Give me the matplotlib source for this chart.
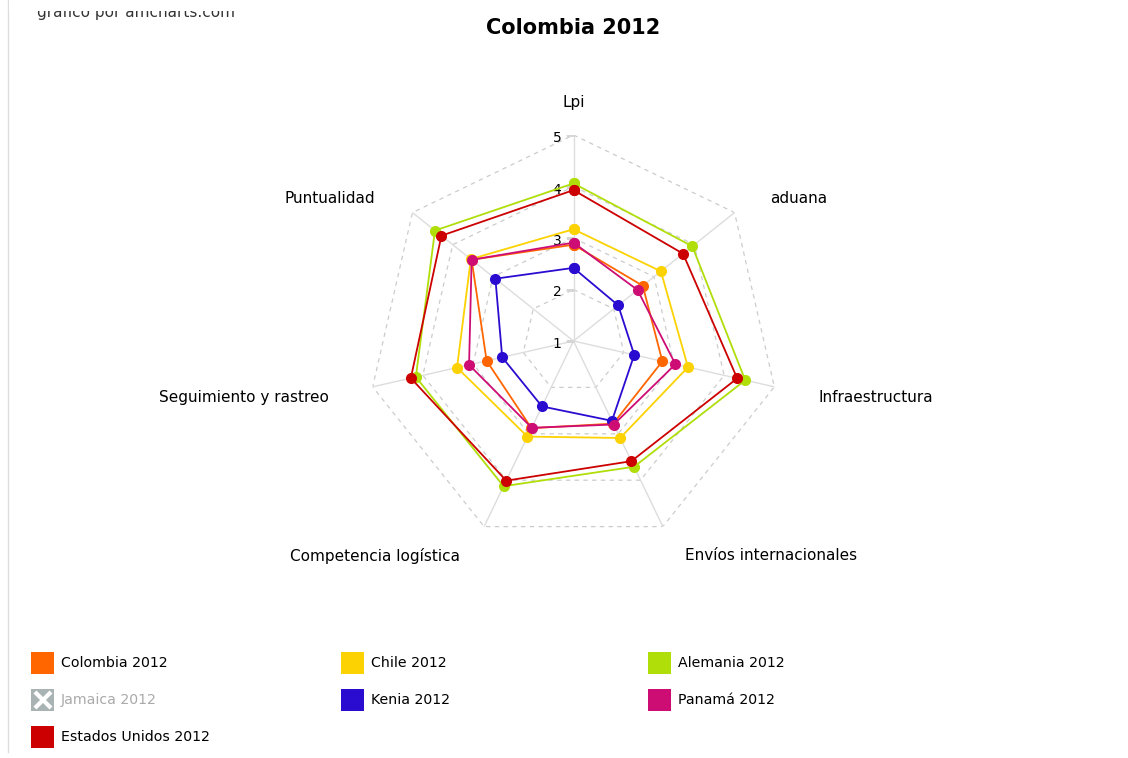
import numpy as np
import matplotlib
matplotlib.use('Agg')
import matplotlib.pyplot as plt
from matplotlib.patches import Rectangle

# Datos del gráfico (LPI 2012)
categorias = ['Lpi', 'aduana', 'Infraestructura', 'Envíos internacionales',
              'Competencia logística', 'Seguimiento y rastreo', 'Puntualidad']

colombia = [2.87, 2.72, 2.77, 2.78, 2.88, 2.73, 3.53]
chile = [3.17, 3.17, 3.28, 3.09, 3.06, 3.32, 3.55]
alemania = [4.06, 3.95, 4.42, 3.71, 4.13, 4.14, 4.44]
kenia = [2.42, 2.11, 2.21, 2.72, 2.41, 2.42, 2.94]
panama = [2.91, 2.59, 3.03, 2.80, 2.87, 3.08, 3.53]
estados_unidos = [3.93, 3.72, 4.26, 3.59, 4.01, 4.24, 4.28]

series = ['Colombia 2012', 'Chile 2012', 'Alemania 2012', 'Jamaica 2012',
          'Kenia 2012', 'Panamá 2012', 'Estados Unidos 2012']
valores = [colombia, chile, alemania, None, kenia, panama, estados_unidos]
colores = ['#FF6600', '#FCD202', '#B0DE09', '#AAB3B3', '#2A0CD0', '#CD0D74', '#CC0000']
visibles = [True, True, True, False, True, True, True]

niveles = [1, 2, 3, 4, 5]

W, H = 1128, 758
fig = plt.figure(figsize=(W / 100, H / 100), dpi=100)
fig.patch.set_facecolor('white')

# radar: centro (573.5, 341), radio 206 px
cx, cy, R = 573.5, 341, 206
ax = fig.add_axes([(cx - R) / W, (H - cy - R) / H, 2 * R / W, 2 * R / H], projection='polar')
ax.set_theta_zero_location('N')
ax.set_theta_direction(-1)
ax.set_ylim(1, 5)
ax.grid(False)
ax.set_xticks([])
ax.set_yticks([])
ax.spines['polar'].set_visible(False)
ax.patch.set_alpha(0)

n = len(categorias)
theta = np.arange(n) * 2 * np.pi / n
theta_c = np.r_[theta, theta[0]]

# rejilla poligonal
for lvl in niveles[1:]:
    ax.plot(theta_c, [lvl] * (n + 1), color='#cccccc', lw=0.9, ls=(0, (3.5, 3.5)), zorder=1)
for t in theta:
    ax.plot([t, t], [1, 5], color='#dddddd', lw=1.0, zorder=1)

# etiquetas del eje de valores
for v in niveles:
    ax.annotate(str(v), xy=(0, v), xytext=(-12, -3), textcoords='offset pixels',
                ha='right', va='center', fontsize=10, color='#000000', annotation_clip=False)
    ax.plot(0, v, marker=[(-1, 0), (0, 0)], ms=12, mec='#d5d5d5', mew=1, zorder=1)

# etiquetas de categorias
offsets = [(0, 32, 'center'), (36, 14, 'left'), (44, -11, 'left'), (22, -29, 'left'),
           (-24, -29, 'right'), (-44, -11, 'right'), (-37, 14, 'right')]
for t, cat, (dx, dy, ha) in zip(theta, categorias, offsets):
    ax.annotate(cat, xy=(t, 5), xytext=(dx, dy), textcoords='offset pixels',
                ha=ha, va='center', fontsize=11, color='#000000', annotation_clip=False)

# series
for i, (nombre, vals, c, vis) in enumerate(zip(series, valores, colores, visibles)):
    if not vis:
        continue
    ax.plot(theta_c, np.r_[vals, vals[0]], color=c, lw=1.3, marker='o', ms=8,
            mew=0, zorder=3 + i, clip_on=False)

# titulo y texto superior (cortado por arriba)
fig.text(573 / W, 1 - 28 / H, 'Colombia 2012', ha='center', va='center',
         fontsize=15, fontweight='bold', color='#000000')
fig.text(37 / W, 1 - 17 / H, 'gráfico por amcharts.com', ha='left', va='baseline',
         fontsize=11, color='#333333', zorder=3)
fig.add_artist(Rectangle((9 / W, 1 - 10.5 / H), 1, 1, transform=fig.transFigure,
                         color='white', lw=0, zorder=5))

# leyenda manual
lax = fig.add_axes([0, 0, 1, 1], zorder=-1)
lax.set_xlim(0, W)
lax.set_ylim(H, 0)
lax.axis('off')
lax.plot([8, 8], [0, 752], color='#dddddd', lw=1)

col_x = [31, 341, 648]
fila_y = [663, 700, 737]
for i, (nombre, c, vis) in enumerate(zip(series, colores, visibles)):
    x = col_x[i % 3]
    y = fila_y[i // 3]
    lax.add_patch(Rectangle((x, y - 11), 23, 22, color=c, lw=0))
    if not vis:
        lax.plot(x + 11.5, y, marker='x', ms=11, mew=3, color='white')
    lax.text(x + 30, y, nombre, ha='left', va='center', fontsize=10.2,
             color='#000000' if vis else '#aaaaaa')

fig.savefig('out.png', dpi=100)
